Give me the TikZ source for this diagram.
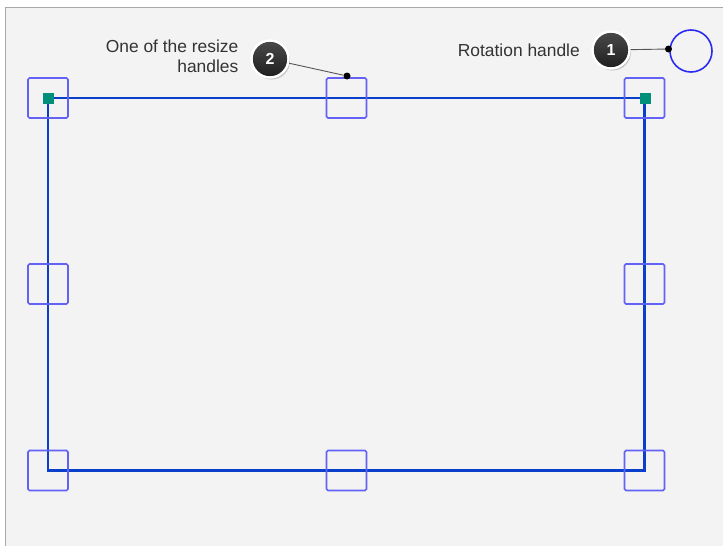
\documentclass[tikz,border=0pt]{standalone}
\usepackage{fontspec}
\setmainfont{Liberation Sans}
\usetikzlibrary{shadows}
\definecolor{bg}{HTML}{F3F3F3}
\definecolor{framegray}{HTML}{A8A8A8}
\definecolor{rectblue}{HTML}{0A3FCC}
\definecolor{handleblue}{HTML}{6262F6}
\definecolor{grip}{HTML}{00907A}
\definecolor{badgetop}{HTML}{4A4A4A}
\definecolor{badgebot}{HTML}{1E1E1E}
\definecolor{rotblue}{HTML}{2A2AF0}
\definecolor{leader}{HTML}{555555}
\begin{document}
\begin{tikzpicture}[x=1pt,y=-1pt,
  handlebox/.style={draw=handleblue, line width=1.6pt, rounded corners=1.5pt, minimum size=40pt, inner sep=0pt},
  gripbox/.style={fill=grip, minimum size=11pt, inner sep=0pt},
  badge/.style={circle, minimum size=37pt, inner sep=0pt, top color=badgetop, bottom color=badgebot, draw=white, line width=2.4pt,
    drop shadow={shadow xshift=1.5pt, shadow yshift=-2pt, opacity=0.45},
    text=white, font=\bfseries\fontsize{16}{16}\selectfont},
  dotnode/.style={circle, fill=black, minimum size=7pt, inner sep=0pt},
  rothandle/.style={circle, draw=rotblue, line width=1.6pt, minimum size=42pt, inner sep=0pt},
  leaderline/.style={draw=leader, line width=0.9pt},
  label/.style={font=\fontsize{17.4}{20}\selectfont, text=black!80, inner sep=0pt}
]
\useasboundingbox (0,0) rectangle (723,546);
\fill[white] (0,0) rectangle (723,546);
\fill[bg] (5,7) rectangle (723,546);
\draw[framegray, line width=1pt] (5,546) -- (5,7) -- (723,7);

% main rectangle
\coordinate (tl) at (48,98);
\coordinate (tr) at (644.5,98);
\coordinate (br) at (644.5,470.5);
\coordinate (bl) at (48,470.5);
\draw[rectblue, line width=2.3pt] (tl) -- (tr) -- (br) -- (bl) -- cycle;

% resize handles
\node[handlebox] (h1) at (48,98) {};
\node[handlebox] (h2) at (346.5,98) {};
\node[handlebox] (h3) at (644.5,98) {};
\node[handlebox] (h4) at (48,284) {};
\node[handlebox] (h5) at (644.5,284) {};
\node[handlebox] (h6) at (48,470.5) {};
\node[handlebox] (h7) at (346.5,470.5) {};
\node[handlebox] (h8) at (644.5,470.5) {};

% grips
\node[gripbox] (g1) at (48.5,98.5) {};
\node[gripbox] (g2) at (645,98.5) {};

% rotation handle
\node[rothandle] (rot) at (691,51) {};
\node[dotnode] (d1) at (668.5,49) {};
\node[badge] (b1) at (611,50) {1};
\draw[leaderline] (b1) -- (d1);
\node[label, anchor=east] (t1) at (580,50) {Rotation handle};

% resize callout
\node[dotnode] (d2) at (347,76) {};
\node[badge] (b2) at (270,59) {2};
\draw[leaderline] (b2) -- (d2);
\node[label, anchor=east, align=right] (t2) at (238.5,56) {One of the resize\\handles};
\end{tikzpicture}
\end{document}
